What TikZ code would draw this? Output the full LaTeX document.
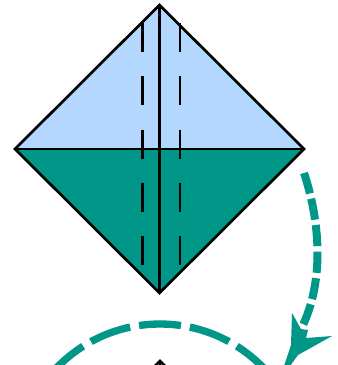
\documentclass[tikz,border=0pt]{standalone}
\usepackage{xcolor}
\definecolor{foldteal}{RGB}{0,150,136}
\definecolor{foldblue}{RGB}{179,215,255}
\tikzset{>=latex}
\tikzset{
  foldedge/.style={draw=black, line width=2pt},
  creaseline/.style={black, line width=2pt, dash pattern=on 21.75pt off 18.2pt},
  movearrow/.style={foldteal, line width=6pt, dash pattern=on 16pt off 4pt},
  movecircle/.style={foldteal, line width=5.5pt, dash pattern=on 31.5pt off 6.75pt, dash phase=15.75pt},
}
\begin{document}
\begin{tikzpicture}[x=0.75pt,y=-0.75pt]
  \useasboundingbox (0,0) rectangle (337,365);
  \clip (0,0) rectangle (337,365);
  % paper corners
  \coordinate (top) at (159.5,5);
  \coordinate (left) at (15,149);
  \coordinate (right) at (304,149);
  \coordinate (bottom) at (159.5,293);
  \fill[foldblue] (left) -- (top) -- (right) -- cycle;
  \fill[foldteal] (left) -- (bottom) -- (right) -- cycle;
  % creases
  \draw[creaseline] (142.5,23) -- (142.5,265);
  \draw[creaseline] (180,23) -- (180,265);
  \draw[foldedge] (left) -- (top) -- (right) -- (bottom) -- cycle;
  \draw[foldedge] (left) -- (right);
  \draw[foldedge] (top) -- (bottom);
  % next step
  \draw[foldedge, fill=foldblue] (160,361) -- (304,505) -- (160,649) -- (16,505) -- cycle;
  \draw[foldedge] (160,361) -- (160,649);
  \draw[movecircle] (160,324) arc[start angle=-90, end angle=-20, radius=144];
  \draw[movecircle] (160,324) arc[start angle=-90, end angle=-160, radius=144];
  % arrow
  \draw[movearrow] (304,173) .. controls (318,215) and (326,275) .. (303,325);
  \fill[foldteal] (292,313) -- (301,329) -- (308,330) -- (306,338) -- (332,336) -- (298,355) -- (290,366) -- (284,366) -- (291,345) -- cycle;
\end{tikzpicture}
\end{document}
